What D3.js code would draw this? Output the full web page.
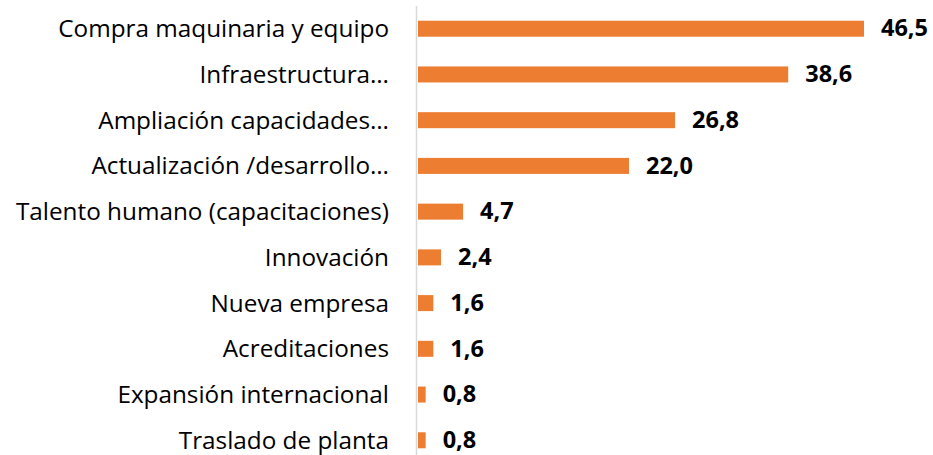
<!DOCTYPE html>
<html>
<head>
<meta charset="utf-8">
<script src="https://cdn.jsdelivr.net/npm/d3@7"></script>
<style>
  body { margin: 0; background: #fff; }
  text { font-family: "Open Sans", sans-serif; }
</style>
</head>
<body>
<div id="chart"></div>
<script>
// data
const categories = ["Compra maquinaria y equipo", "Infraestructura…", "Ampliación capacidades…",
  "Actualización /desarrollo…", "Talento humano (capacitaciones)", "Innovación", "Nueva empresa",
  "Acreditaciones", "Expansión internacional", "Traslado de planta"];
const values = [46.5, 38.6, 26.8, 22.0, 4.7, 2.4, 1.6, 1.6, 0.8, 0.8];

const width = 933, height = 455;
const data = categories.map((c, i) => ({ cat: c, v: values[i] }));

const x = d3.scaleLinear().domain([0, 46.5]).range([418, 864]);
const y = d3.scaleBand().domain(categories).range([7, 462]).paddingInner(0.65).paddingOuter(0.3);

const svg = d3.select("#chart").append("svg").attr("width", width).attr("height", height);

svg.selectAll("rect.bar")
  .data(data)
  .join("rect")
  .attr("class", "bar")
  .attr("x", x(0))
  .attr("y", d => y(d.cat))
  .attr("width", d => x(d.v) - x(0))
  .attr("height", y.bandwidth())
  .attr("fill", "#ED7D31");

// vertical axis line
svg.append("line")
  .attr("x1", 416.5).attr("x2", 416.5)
  .attr("y1", 6).attr("y2", height)
  .attr("stroke", "#D9D9D9").attr("stroke-width", 1.5);

// category labels
svg.selectAll("text.cat")
  .data(data)
  .join("text")
  .attr("class", "cat")
  .attr("x", 389)
  .attr("y", d => y(d.cat) + y.bandwidth() / 2)
  .attr("dy", "0.35em")
  .attr("text-anchor", "end")
  .attr("font-size", 24.3)
  .attr("fill", "#000")
  .text(d => d.cat);

// value labels
const fmt = v => v.toFixed(1).replace(".", ",");
svg.selectAll("text.val")
  .data(data)
  .join("text")
  .attr("class", "val")
  .attr("x", d => x(d.v) + 17)
  .attr("y", d => y(d.cat) + y.bandwidth() / 2 - 0.5)
  .attr("dy", "0.35em")
  .attr("font-size", 23.5)
  .attr("font-weight", "bold")
  .attr("fill", "#000")
  .text(d => fmt(d.v));
</script>
</body>
</html>
